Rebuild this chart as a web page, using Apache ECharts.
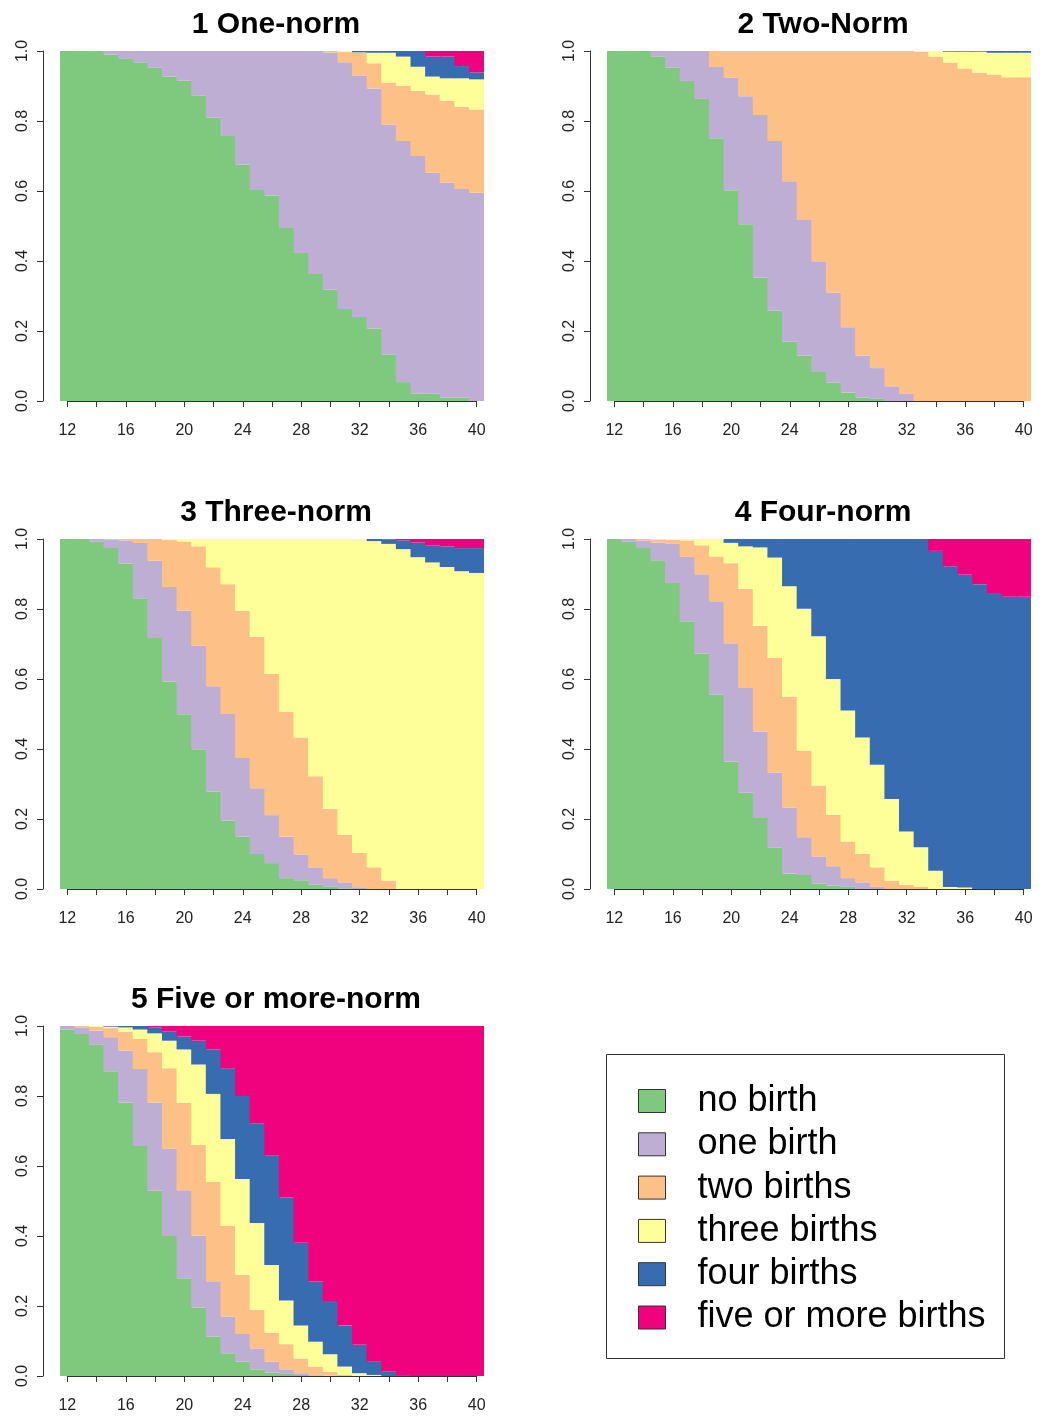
<!DOCTYPE html>
<html>
<head>
<meta charset="utf-8">
<title>State distribution by fertility norm</title>
<script src="https://cdn.jsdelivr.net/npm/echarts@6/dist/echarts.min.js"></script>
<style>
  html, body { margin: 0; padding: 0; background: #fff; }
  #chart { width: 1043px; height: 1416px; }
</style>
</head>
<body>
<div id="chart"></div>
<script>
// Ages (one bar per age) and state labels
const ages = [12,13,14,15,16,17,18,19,20,21,22,23,24,25,26,27,28,29,30,31,32,33,34,35,36,37,38,39,40];
const stateNames = ['no birth', 'one birth', 'two births', 'three births', 'four births', 'five or more births'];
const panelTitles = ['1 One-norm', '2 Two-Norm', '3 Three-norm', '4 Four-norm', '5 Five or more-norm'];

// 1 One-norm: share in each state by age
const oneNormNone  = [1,1,1,.990,.979,.968,.952,.927,.915,.872,.810,.757,.676,.603,.587,.494,.423,.363,.318,.263,.240,.207,.133,.054,.021,.021,.010,.010,0];
const oneNormOne   = [0,0,0,.010,.021,.032,.048,.073,.085,.128,.190,.243,.324,.397,.413,.506,.577,.637,.678,.705,.689,.686,.657,.689,.679,.632,.614,.596,.595];
const oneNormTwo   = [0,0,0,0,0,0,0,0,0,0,0,0,0,0,0,0,0,0,.004,.029,.066,.072,.120,.158,.186,.223,.234,.235,.238];
const oneNormThree = [0,0,0,0,0,0,0,0,0,0,0,0,0,0,0,0,0,0,0,.003,.001,.030,.085,.083,.069,.051,.064,.081,.086];
const oneNormFour  = [0,0,0,0,0,0,0,0,0,0,0,0,0,0,0,0,0,0,0,0,.004,.005,.005,.016,.045,.057,.062,.035,.020];
const oneNormFive  = [0,0,0,0,0,0,0,0,0,0,0,0,0,0,0,0,0,0,0,0,0,0,0,0,0,.016,.016,.043,.061];

// 2 Two-Norm
const twoNormNone  = [1,1,1,.984,.952,.914,.863,.751,.602,.505,.353,.258,.169,.130,.083,.052,.024,.010,.006,0,0,0,0,0,0,0,0,0,0];
const twoNormOne   = [0,0,0,.016,.048,.086,.137,.203,.322,.366,.464,.485,.459,.387,.316,.258,.187,.120,.088,.042,.020,0,0,0,0,0,0,0,0];
const twoNormTwo   = [0,0,0,0,0,0,0,.046,.076,.129,.183,.257,.372,.483,.601,.690,.789,.870,.906,.958,.980,.998,.984,.967,.950,.938,.933,.925,.925];
const twoNormThree = [0,0,0,0,0,0,0,0,0,0,0,0,0,0,0,0,0,0,0,0,0,.002,.016,.031,.048,.060,.062,.070,.070];
const twoNormFour  = [0,0,0,0,0,0,0,0,0,0,0,0,0,0,0,0,0,0,0,0,0,0,0,.002,.002,.002,.005,.005,.005];
const twoNormFive  = [0,0,0,0,0,0,0,0,0,0,0,0,0,0,0,0,0,0,0,0,0,0,0,0,0,0,0,0,0];

// 3 Three-norm
const threeNormNone  = [1,1,.992,.974,.930,.831,.717,.593,.499,.399,.278,.196,.149,.100,.074,.031,.025,.012,.006,.002,0,0,0,0,0,0,0,0,0];
const threeNormOne   = [0,0,.008,.025,.066,.158,.221,.270,.296,.296,.301,.304,.225,.188,.137,.118,.074,.048,.025,.017,.005,0,0,0,0,0,0,0,0];
const threeNormTwo   = [0,0,0,.001,.004,.011,.062,.134,.198,.284,.340,.371,.421,.433,.403,.357,.334,.262,.198,.136,.098,.062,.024,0,0,0,0,0,0];
const threeNormThree = [0,0,0,0,0,0,0,.003,.007,.021,.081,.129,.205,.279,.386,.494,.567,.678,.771,.845,.897,.932,.962,.971,.948,.933,.920,.908,.903];
const threeNormFour  = [0,0,0,0,0,0,0,0,0,0,0,0,0,0,0,0,0,0,0,0,0,.006,.012,.025,.042,.048,.059,.066,.071];
const threeNormFive  = [0,0,0,0,0,0,0,0,0,0,0,0,0,0,0,0,0,0,0,0,0,0,.002,.004,.010,.019,.021,.026,.026];

// 4 Four-norm
const fourNormNone  = [1,.992,.974,.939,.874,.765,.672,.555,.364,.275,.203,.118,.044,.040,.015,.010,.006,0,0,0,0,0,0,0,0,0,0,0,0];
const fourNormOne   = [0,.008,.022,.051,.112,.184,.227,.267,.336,.299,.246,.215,.189,.108,.078,.055,.025,.019,.006,0,0,0,0,0,0,0,0,0,0];
const fourNormTwo   = [0,0,.004,.009,.012,.047,.083,.128,.231,.284,.303,.327,.316,.248,.203,.147,.105,.081,.056,.024,.012,.006,0,0,0,0,0,0,0];
const fourNormThree = [0,0,0,.001,.002,.004,.018,.050,.058,.121,.224,.287,.316,.405,.426,.388,.374,.333,.293,.233,.152,.113,.052,.006,.004,0,0,0,0];
const fourNormFour  = [0,0,0,0,0,0,0,0,.011,.021,.024,.053,.135,.199,.278,.400,.490,.567,.645,.743,.836,.881,.914,.916,.894,.871,.846,.835,.835];
const fourNormFive  = [0,0,0,0,0,0,0,0,0,0,0,0,0,0,0,0,0,0,0,0,0,0,.034,.078,.102,.129,.154,.165,.165];

// 5 Five or more-norm
const fiveNormNone  = [.990,.977,.946,.871,.781,.657,.529,.400,.279,.196,.112,.065,.041,.019,.010,.006,.003,.001,0,0,0,0,0,0,0,0,0,0,0];
const fiveNormOne   = [.010,.019,.041,.097,.149,.220,.252,.250,.252,.205,.159,.105,.079,.060,.031,.013,.005,.002,.001,0,0,0,0,0,0,0,0,0,0];
const fiveNormTwo   = [0,.004,.011,.026,.053,.086,.144,.229,.250,.259,.283,.259,.169,.110,.083,.072,.042,.024,.011,.003,0,0,0,0,0,0,0,0,0];
const fiveNormThree = [0,0,.002,.004,.013,.027,.054,.079,.152,.230,.252,.248,.274,.248,.193,.125,.094,.071,.050,.024,.008,.003,0,0,0,0,0,0,0];
const fiveNormFour  = [0,0,0,.002,.004,.010,.017,.026,.037,.068,.127,.202,.237,.285,.312,.294,.237,.172,.152,.117,.081,.038,.012,.003,0,0,0,0,0];
const fiveNormFive  = [0,0,0,0,0,0,.004,.016,.030,.042,.067,.121,.200,.278,.371,.490,.619,.730,.786,.856,.911,.959,.988,.997,1,1,1,1,1];

// Colours (ColorBrewer "Accent")
const stateColors = ['#7FC97F', '#BEAED4', '#FDC086', '#FFFF99', '#386CB0', '#F0027F'];
const FONT = '"Liberation Sans", Arial, Helvetica, sans-serif';

const panelData = [
  [oneNormNone, oneNormOne, oneNormTwo, oneNormThree, oneNormFour, oneNormFive],
  [twoNormNone, twoNormOne, twoNormTwo, twoNormThree, twoNormFour, twoNormFive],
  [threeNormNone, threeNormOne, threeNormTwo, threeNormThree, threeNormFour, threeNormFive],
  [fourNormNone, fourNormOne, fourNormTwo, fourNormThree, fourNormFour, fourNormFive],
  [fiveNormNone, fiveNormOne, fiveNormTwo, fiveNormThree, fiveNormFour, fiveNormFive]
];

// Plot regions (pixels)
const PLOT_W = 424, PLOT_H = 350;
const boxes = [
  { left: 60,  top: 51 },
  { left: 607, top: 51 },
  { left: 60,  top: 539 },
  { left: 607, top: 539 },
  { left: 60,  top: 1026 }
];
const barW = PLOT_W / ages.length;

const axisColor = '#333';
const grid = [], xAxis = [], yAxis = [], series = [], title = [];

boxes.forEach((b, i) => {
  // bar grid
  grid.push({ left: b.left, top: b.top, width: PLOT_W, height: PLOT_H });
  xAxis.push({ gridIndex: i, type: 'category', data: ages, show: false, boundaryGap: true });
  yAxis.push({
    gridIndex: i, type: 'value', min: 0, max: 1, interval: 0.2, offset: 17,
    axisLine: { show: true, lineStyle: { color: axisColor, width: 1 } },
    axisTick: { show: true, length: 6, lineStyle: { color: axisColor, width: 1 } },
    axisLabel: { rotate: 90, fontSize: 16, color: '#222', fontFamily: FONT, margin: 12,
                 formatter: v => v.toFixed(1) },
    splitLine: { show: false }
  });
  panelData[i].forEach((vals, k) => {
    series.push({
      type: 'bar', name: stateNames[k], stack: 'panel' + i,
      xAxisIndex: i, yAxisIndex: i,
      // slightly wider than the band so neighbouring columns join without seams
      barWidth: barW + 0.8,
      data: vals, silent: true,
      itemStyle: { color: stateColors[k], borderWidth: 0 }
    });
  });
  title.push({
    text: panelTitles[i], left: b.left + 216, top: b.top - 41, textAlign: 'center', padding: 0,
    textStyle: { fontSize: 30, fontWeight: 'bold', color: '#000', fontFamily: FONT }
  });
});

// age axes: spanning first to last bar centre, drawn below the bars
boxes.forEach((b, i) => {
  const gi = boxes.length + i;
  grid.push({ left: b.left + barW / 2, top: b.top, width: PLOT_W - barW, height: PLOT_H });
  xAxis.push({
    gridIndex: gi, type: 'value', min: ages[0], max: ages[ages.length - 1], interval: 2,
    position: 'bottom', offset: 8,
    axisLine: { show: true, lineStyle: { color: axisColor, width: 1 } },
    axisTick: { show: true, length: 6, lineStyle: { color: axisColor, width: 1 } },
    axisLabel: { fontSize: 16, color: '#222', fontFamily: FONT, margin: 14,
                 formatter: v => ((v - ages[0]) % 4 === 0 ? String(v) : '') },
    splitLine: { show: false }
  });
  yAxis.push({ gridIndex: gi, type: 'value', show: false, min: 0, max: 1 });
});

const option = {
  backgroundColor: '#fff',
  animation: false,
  title,
  grid, xAxis, yAxis, series,
  legend: {
    data: stateNames, orient: 'vertical', left: 638, top: 1083, padding: 0,
    itemWidth: 27, itemHeight: 23, itemGap: 7.3, icon: 'rect', selectedMode: false,
    itemStyle: { borderColor: '#333', borderWidth: 1 },
    textStyle: { fontSize: 36, lineHeight: 36, color: '#000', fontFamily: FONT, padding: [0, 0, 0, 27] }
  },
  graphic: [{
    type: 'rect', shape: { x: 606.5, y: 1054.5, width: 398, height: 304 },
    style: { fill: 'none', stroke: '#333', lineWidth: 1 }, silent: true
  }]
};

const chart = echarts.init(document.getElementById('chart'), null, { renderer: 'canvas' });
chart.setOption(option);
</script>
</body>
</html>
